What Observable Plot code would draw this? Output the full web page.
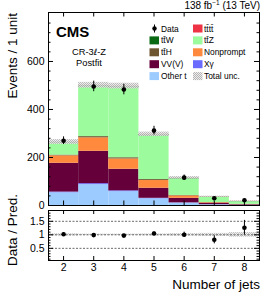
<!DOCTYPE html>
<html><head><meta charset="utf-8">
<script src="https://cdn.jsdelivr.net/npm/d3@7"></script>
<script src="https://cdn.jsdelivr.net/npm/@observablehq/plot@0.6"></script>
<style>
body{margin:0;background:#fff;font-family:"Liberation Sans",Arial,sans-serif;}
#wrap{position:relative;width:266px;height:293px;overflow:hidden;background:#fff;}
#wrap > svg{position:absolute;left:0;overflow:visible;}
</style></head><body><div id="wrap"></div>
<script>
// ---- data ----
const jets = [2, 3, 4, 5, 6, 7, 8];
const processes = ["Other t", "Xγ", "VV(V)", "Nonprompt", "tt̄H", "tt̄Z", "tt̄W", "tt̄tt̄"];
const colors = ["#9ccbff", "#6b6bff", "#66003a", "#ff8a3d", "#6e5730", "#9cfb9c", "#0a6a14", "#ee3344"];
const otherT    = [53, 87, 58, 28, 10, 3, 1];
const xgamma    = [3, 4, 3, 2, 1, 0.3, 0.1];
const vvv       = [120, 135, 90, 42, 19, 6, 2.5];
const nonprompt = [31, 56, 43, 32, 10, 2.5, 1];
const ttH       = [3, 5, 5, 4, 2, 0.8, 0.4];
const ttZ       = [49, 206, 291, 182, 69, 22, 11];
const ttW       = [5, 7, 6, 5, 3, 1.2, 0.6];
const tttt      = [0.5, 1, 1.5, 2, 1.5, 1, 0.8];
const totalUnc  = [10, 12, 12, 9, 5, 2, 1.5];
const dataVals  = [270, 496, 483, 312, 116, 30, 22];
const dataErr   = [16, 22, 22, 18, 11, 5.5, 4.7];
const yTicksMain = [0, 200, 400, 600];
const yTicksRatio = [0.5, 1, 1.5];
const legendCol1 = ["Data", "tt̄W", "tt̄H", "VV(V)", "Other t"];
const legendCol2 = ["tt̄tt̄", "tt̄Z", "Nonprompt", "Xγ", "Total unc."];

// ---- tables ----
const series = [otherT, xgamma, vvv, nonprompt, ttH, ttZ, ttW, tttt];
const rows = [];
processes.forEach((p, i) => jets.forEach((j, k) => rows.push({jets: j, proc: p, value: series[i][k]})));
const totals = jets.map((j, k) => series.reduce((s, a) => s + a[k], 0));
const bins = jets.map((j, k) => ({
  jets: j, total: totals[k], unc: totalUnc[k], data: dataVals[k], err: dataErr[k],
  ratio: dataVals[k] / totals[k], rerr: dataErr[k] / totals[k], runc: totalUnc[k] / totals[k]
}));

const W = 266, mL = 48, mR = 7;
const innerW = W - mL - mR;
const FONT = "Liberation Sans, Arial, sans-serif";
const wrap = document.getElementById("wrap");

// pattern defs
const NS = "http://www.w3.org/2000/svg";
const defsSvg = document.createElementNS(NS, "svg");
defsSvg.setAttribute("width", 0); defsSvg.setAttribute("height", 0);
defsSvg.innerHTML = `<defs><pattern id="hatch" width="2" height="2" patternUnits="userSpaceOnUse">
<rect width="2" height="2" fill="#ececec"/><rect width="1" height="1" fill="#b4b4b4"/><rect x="1" y="1" width="1" height="1" fill="#b4b4b4"/></pattern></defs>`;
wrap.appendChild(defsSvg);

// ---- main panel ----
const mainH = 207, mT = 12, mB = 2;
const innerH = mainH - mT - mB;
const minorMain = d3.range(0, 801, 40).filter(v => v % 200 !== 0);
const main = Plot.plot({
  width: W, height: mainH, marginLeft: mL, marginRight: mR, marginTop: mT, marginBottom: mB,
  x: {domain: [1.5, 8.5], axis: null},
  y: {domain: [0, 804], axis: null},
  color: {domain: processes, range: colors},
  style: {fontFamily: FONT, fontSize: "10.5px", color: "#000", background: "transparent", overflow: "visible"},
  marks: [
    Plot.rectY(rows, {x1: d => d.jets - 0.5, x2: d => d.jets + 0.5, y: "value", fill: "proc", order: processes}),
    Plot.rect(bins, {x1: d => d.jets - 0.5, x2: d => d.jets + 0.5, y1: d => d.total - d.unc, y2: d => d.total + d.unc, fill: "url(#hatch)", fillOpacity: 0.9}),
    Plot.ruleX(bins, {x: "jets", y1: d => d.data - d.err, y2: d => d.data + d.err, stroke: "#000", strokeWidth: 1}),
    Plot.dot(bins, {x: "jets", y: "data", r: 2.3, fill: "#000", stroke: "none"}),
    Plot.frame({stroke: "#000", strokeWidth: 1}),
    Plot.axisY({ticks: yTicksMain, tickSize: 0, tickPadding: 4, label: null, fontSize: 10.5}),
    Plot.tickY(yTicksMain, {y: d => d, insetRight: innerW - 5, stroke: "#000"}),
    Plot.tickY(yTicksMain, {y: d => d, insetLeft: innerW - 5, stroke: "#000"}),
    Plot.tickY(minorMain, {y: d => d, insetRight: innerW - 2.5, stroke: "#000"}),
    Plot.tickY(minorMain, {y: d => d, insetLeft: innerW - 2.5, stroke: "#000"}),
    Plot.tickX(jets, {x: d => d, insetTop: innerH - 4.5, stroke: "#000"}),
    Plot.tickX(jets, {x: d => d, insetBottom: innerH - 4.5, stroke: "#000"})
  ]
});
main.style.top = "0px";
wrap.appendChild(main);

// ---- ratio panel ----
const rH = 86, rT = 3, rB = 33;
const rInnerH = rH - rT - rB;
const minorRatio = d3.range(0.1, 1.91, 0.1).map(v => +v.toFixed(2)).filter(v => ![0.5, 1, 1.5].includes(v));
const ratio = Plot.plot({
  width: W, height: rH, marginLeft: mL, marginRight: mR, marginTop: rT, marginBottom: rB,
  x: {domain: [1.5, 8.5], axis: null},
  y: {domain: [0.05, 1.9], axis: null},
  style: {fontFamily: FONT, fontSize: "10.5px", color: "#000", background: "transparent", overflow: "visible"},
  marks: [
    Plot.rect(bins, {x1: d => d.jets - 0.5, x2: d => d.jets + 0.5, y1: d => 1 - d.runc, y2: d => 1 + d.runc, fill: "url(#hatch)", fillOpacity: 0.8}),
    Plot.ruleY(yTicksRatio, {y: d => d, stroke: "#444", strokeWidth: 0.8, strokeDasharray: "2,1.5"}),
    Plot.ruleX(bins, {x: "jets", y1: d => d.ratio - d.rerr, y2: d => d.ratio + d.rerr, stroke: "#000", strokeWidth: 1}),
    Plot.dot(bins, {x: "jets", y: "ratio", r: 2.3, fill: "#000", stroke: "none"}),
    Plot.frame({stroke: "#000", strokeWidth: 1}),
    Plot.axisY({ticks: yTicksRatio, tickSize: 0, tickPadding: 4, label: null, tickFormat: d => String(d), fontSize: 10.5}),
    Plot.axisX({ticks: jets, tickSize: 0, tickPadding: 3, label: null, tickFormat: d => String(d), fontSize: 10.5}),
    Plot.tickY(yTicksRatio, {y: d => d, insetRight: innerW - 5, stroke: "#000"}),
    Plot.tickY(yTicksRatio, {y: d => d, insetLeft: innerW - 5, stroke: "#000"}),
    Plot.tickY(minorRatio, {y: d => d, insetRight: innerW - 2.5, stroke: "#000"}),
    Plot.tickY(minorRatio, {y: d => d, insetLeft: innerW - 2.5, stroke: "#000"}),
    Plot.tickX(jets, {x: d => d, insetTop: rInnerH - 4, stroke: "#000"}),
    Plot.tickX(jets, {x: d => d, insetBottom: rInnerH - 4, stroke: "#000"})
  ]
});
ratio.style.top = "207px";
wrap.appendChild(ratio);

// ---- overlay texts & legend ----
const ov = document.createElementNS(NS, "svg");
ov.setAttribute("width", 266); ov.setAttribute("height", 293);
ov.style.top = "0px";
ov.setAttribute("font-family", FONT);
let s = "";
s += `<text x="260" y="8.5" font-size="10" text-anchor="end">138 fb<tspan font-size="6.5" dy="-3.5">−1</tspan><tspan dy="3.5"> (13 TeV)</tspan></text>`;
s += `<text transform="translate(17,13) rotate(-90)" font-size="13.5" text-anchor="end">Events / 1 unit</text>`;
s += `<text transform="translate(17,194) rotate(-90)" font-size="13.5" text-anchor="end">Data / Pred.</text>`;
s += `<text x="260" y="289" font-size="13.5" text-anchor="end">Number of jets</text>`;
s += `<text x="56" y="36.5" font-size="15" font-weight="bold">CMS</text>`;
s += `<text x="89" y="55" font-size="9.3" text-anchor="middle">CR-3<tspan font-family="DejaVu Sans" font-size="8.5">ℓ</tspan>-Z</text>`;
s += `<text x="89" y="66" font-size="9.3" text-anchor="middle">Postfit</text>`;
const colorOf = Object.fromEntries(processes.map((p, i) => [p, colors[i]]));
function item(name, bx, tx, cy) {
  let o = "";
  if (name === "Data") {
    o += `<line x1="${bx + 5}" x2="${bx + 5}" y1="${cy - 4}" y2="${cy + 4}" stroke="#000"/><circle cx="${bx + 5}" cy="${cy}" r="2.2" fill="#000"/>`;
  } else {
    const fill = name === "Total unc." ? "url(#hatch)" : colorOf[name];
    o += `<rect x="${bx}" y="${cy - 4}" width="9.5" height="8" fill="${fill}"/>`;
  }
  o += `<text x="${tx}" y="${cy + 3}" font-size="8.4">${name}</text>`;
  return o;
}
legendCol1.forEach((n, i) => s += item(n, 149.5, 161, 28.5 + 11.9 * i));
legendCol2.forEach((n, i) => s += item(n, 193, 204, 28.5 + 11.9 * i));
ov.innerHTML = s;
wrap.appendChild(ov);
</script></body></html>
